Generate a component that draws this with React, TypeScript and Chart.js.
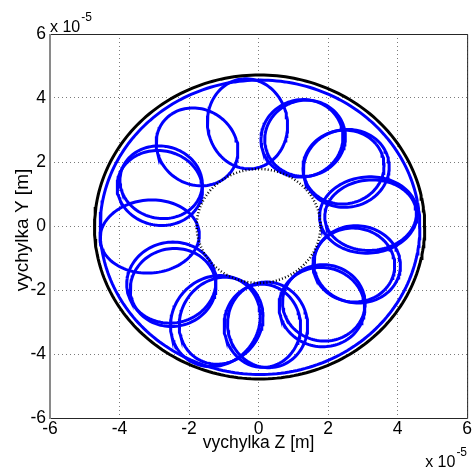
import React, { useEffect, useRef } from "react";
import { Chart, registerables } from "chart.js";

Chart.register(...registerables);

// All displacements are given in units of 1e-5 m (axis multiplier "x 10^-5").
const AXIS_MIN = -6;
const AXIS_MAX = 6;
const xTickValues = [-6, -4, -2, 0, 2, 4, 6];
const yTickValues = [-6, -4, -2, 0, 2, 4, 6];

const X_TITLE = "vychylka Z [m]";
const Y_TITLE = "vychylka Y [m]";
const MULT_BASE = "x 10";
const MULT_EXP = "-5";

// Whirl loops of the rotor orbit: direction of the loop centre [deg],
// distance of the centre from the origin, radial and tangential half-size.
const loopAngle = [95.7, 65.5, 64, 35.5, 37, 6.2, 6, -22.9, -24, -54.3, -52, -85.2, -88, -112.7, -110, -144.8, -142, 186, 157.3, 154, 125.6];
const loopDistance = [3.21, 3.01, 3.05, 3.1, 3.06, 3.18, 3.24, 3.08, 3.0, 3.12, 3.05, 3.1, 3.12, 3.22, 3.15, 3.07, 3.12, 3.15, 3.08, 3.12, 3.04];
const loopRadial = [1.41, 1.22, 1.2, 1.25, 1.18, 1.41, 1.32, 1.25, 1.18, 1.25, 1.2, 1.34, 1.3, 1.45, 1.38, 1.3, 1.25, 1.43, 1.24, 1.2, 1.26];
const loopTangential = [1.15, 1.17, 1.15, 1.2, 1.14, 1.19, 1.1, 1.2, 1.15, 1.22, 1.18, 1.15, 1.1, 1.26, 1.18, 1.25, 1.2, 1.14, 1.16, 1.12, 1.13];

// Outer path of the orbit, stator clearance and the inner limit:
// centre Z, centre Y, radius.
const envelopeCircle = [0.04, -0.04, 4.6];
const housingCircle = [0.03, -0.03, 4.75];
const innerCircle = [0, 0, 1.78];

const FONT = '"Liberation Sans", Arial, Helvetica, sans-serif';
const BLUE = "#0000ff";

function ellipsePoints(cx: number, cy: number, angleDeg: number, a: number, b: number, steps: number) {
  const t = (angleDeg * Math.PI) / 180;
  const ux = Math.cos(t);
  const uy = Math.sin(t);
  const pts: { x: number; y: number }[] = [];
  for (let i = 0; i <= steps; i++) {
    const p = (i / steps) * Math.PI * 2;
    const ca = a * Math.cos(p);
    const sb = b * Math.sin(p);
    pts.push({ x: cx + ca * ux - sb * uy, y: cy + ca * uy + sb * ux });
  }
  return pts;
}

function circlePoints(c: number[], steps: number) {
  return ellipsePoints(c[0], c[1], 0, c[2], c[2], steps);
}

function buildDatasets() {
  const sets: any[] = [];
  for (let i = 0; i < loopAngle.length; i++) {
    const t = (loopAngle[i] * Math.PI) / 180;
    const cx = loopDistance[i] * Math.cos(t);
    const cy = loopDistance[i] * Math.sin(t);
    sets.push({
      data: ellipsePoints(cx, cy, loopAngle[i], loopRadial[i], loopTangential[i], 120),
      borderColor: BLUE,
      borderWidth: 3,
      order: 2,
    });
  }
  sets.push({ data: circlePoints(envelopeCircle, 240), borderColor: BLUE, borderWidth: 3, order: 2 });
  sets.push({ data: circlePoints(housingCircle, 240), borderColor: "#000000", borderWidth: 3, order: 1 });
  sets.push({
    data: circlePoints(innerCircle, 240),
    borderColor: "#000000",
    borderWidth: 2.5,
    borderDash: [1, 2.2],
    order: 1,
  });
  return sets.map((s) => ({
    ...s,
    showLine: true,
    fill: false,
    pointRadius: 0,
    pointHoverRadius: 0,
    tension: 0,
  }));
}

const framePlugin = {
  id: "frame",
  afterDraw(chart: any) {
    const { ctx, chartArea } = chart;
    const { left, right, top, bottom } = chartArea;
    ctx.save();
    // axes box
    ctx.lineWidth = 1;
    ctx.strokeStyle = "#262626";
    ctx.beginPath();
    ctx.moveTo(left, top + 0.5);
    ctx.lineTo(right + 0.5, top + 0.5);
    ctx.lineTo(right + 0.5, bottom + 0.5);
    ctx.lineTo(left, bottom + 0.5);
    ctx.stroke();
    ctx.strokeStyle = "#8a8a8a";
    ctx.lineWidth = 2;
    ctx.beginPath();
    ctx.moveTo(left, top);
    ctx.lineTo(left, bottom + 1);
    ctx.stroke();

    ctx.fillStyle = "#000";
    // axis titles
    ctx.font = `17.5px ${FONT}`;
    ctx.textAlign = "center";
    ctx.textBaseline = "middle";
    ctx.fillText(X_TITLE, (left + right) / 2, bottom + 25);
    ctx.save();
    ctx.translate(23, (top + bottom) / 2 + 4);
    ctx.rotate(-Math.PI / 2);
    ctx.font = `19px ${FONT}`;
    ctx.fillText(Y_TITLE, 0, 0);
    ctx.restore();

    // exponent multipliers
    const drawMult = (x: number, baseline: number) => {
      ctx.textAlign = "left";
      ctx.textBaseline = "alphabetic";
      ctx.font = `16px ${FONT}`;
      ctx.fillText(MULT_BASE, x, baseline);
      const w = ctx.measureText(MULT_BASE).width;
      ctx.font = `12px ${FONT}`;
      ctx.fillText(MULT_EXP, x + w + 1, baseline - 11);
    };
    drawMult(left, top - 2);
    drawMult(right - 42, bottom + 49);
    ctx.restore();
  },
};

export default function App() {
  const canvasRef = useRef<HTMLCanvasElement | null>(null);

  useEffect(() => {
    const canvas = canvasRef.current;
    if (!canvas) return;
    const tickFont = { family: FONT, size: 17.5 };
    const chart = new Chart(canvas, {
      type: "scatter",
      data: { datasets: buildDatasets() },
      options: {
        animation: false,
        responsive: false,
        maintainAspectRatio: false,
        devicePixelRatio: 1,
        layout: { padding: { top: 34, right: 5, left: 0, bottom: 0 } },
        plugins: { legend: { display: false }, tooltip: { enabled: false } },
        events: [],
        scales: {
          x: {
            type: "linear",
            min: AXIS_MIN,
            max: AXIS_MAX,
            afterBuildTicks: (s: any) => {
              s.ticks = xTickValues.map((v) => ({ value: v }));
            },
            afterFit: (s: any) => {
              s.height = 52;
            },
            ticks: { font: tickFont, color: "#000", padding: 1, maxRotation: 0, autoSkip: false },
            grid: { color: "#7a7a7a", lineWidth: 1, drawTicks: false },
            border: { display: false, dash: [1, 3] },
          },
          y: {
            type: "linear",
            min: AXIS_MIN,
            max: AXIS_MAX,
            afterBuildTicks: (s: any) => {
              s.ticks = yTickValues.map((v) => ({ value: v }));
            },
            afterFit: (s: any) => {
              s.width = 50;
            },
            ticks: { font: tickFont, color: "#000", padding: 4, autoSkip: false },
            grid: { color: "#7a7a7a", lineWidth: 1, drawTicks: false },
            border: { display: false, dash: [1, 3] },
          },
        },
      },
      plugins: [framePlugin],
    } as any);
    return () => chart.destroy();
  }, []);

  return (
    <div style={{ position: "fixed", left: 0, top: 0, width: 473, height: 470, background: "#fff" }}>
      <canvas ref={canvasRef} width={473} height={470} style={{ display: "block" }} />
    </div>
  );
}
